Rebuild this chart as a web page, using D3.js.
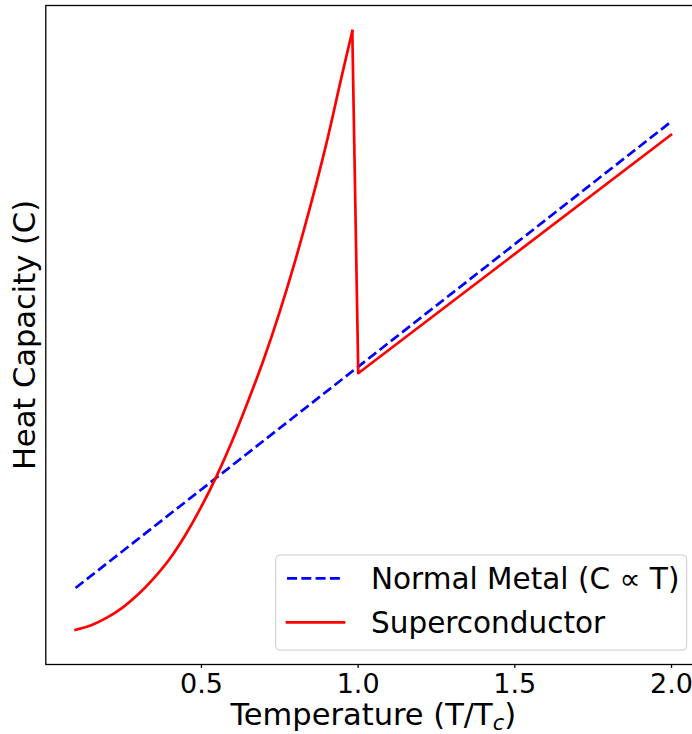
<!DOCTYPE html>
<html>
<head>
<meta charset="utf-8">
<script src="https://cdn.jsdelivr.net/npm/d3@7"></script>
<style>
  body { margin: 0; background: #fff; }
  text { font-family: "DejaVu Sans", sans-serif; fill: #000; }
</style>
</head>
<body>
<script>
// values (C in arbitrary units, normal metal C = T)
var normalT = [0.1, 2.0];
var normalC = [0.1, 2.0];

// superconductor below Tc
var superT = [0.1, 0.15, 0.2, 0.25, 0.3, 0.35, 0.4, 0.45, 0.5, 0.55,
              0.6, 0.65, 0.7, 0.75, 0.8, 0.85, 0.9, 0.95, 0.983];
var superC = [-0.071, -0.052, -0.021, 0.020, 0.074, 0.140, 0.218, 0.315, 0.428, 0.556,
              0.70, 0.86, 1.03, 1.22, 1.43, 1.66, 1.91, 2.19, 2.37];

// superconductor jump + above Tc
var aboveT = [0.983, 1.002, 2.0];
var aboveC = [2.37, 0.975, 1.947];

var xTicks = [0.5, 1.0, 1.5, 2.0];
var xDomain = [0.005, 2.095];
var yDomain = [-0.212, 2.474];

makeChart();

function makeChart() {
  var w = 692, h = 734;
  // plot area
  var pl = 45.8, pr = 700.8, pt = 5.5, pb = 664.5;

  var svg = d3.select('body').append('svg')
    .attr('width', w)
    .attr('height', h);

  var xScale = d3.scaleLinear().domain(xDomain).range([pl, pr]);
  var yScale = d3.scaleLinear().domain(yDomain).range([pb, pt]);

  var zip = (a, b) => a.map((d, i) => [d, b[i]]);

  var line = d3.line()
    .x(d => xScale(d[0]))
    .y(d => yScale(d[1]));

  // normal metal (dashed blue)
  svg.append('path')
    .attr('d', line(zip(normalT, normalC)))
    .attr('fill', 'none')
    .attr('stroke', '#0000ff')
    .attr('stroke-width', 2.7)
    .attr('stroke-dasharray', '10,4.3');

  // superconductor (red)
  svg.append('path')
    .attr('d', line.curve(d3.curveMonotoneX)(zip(superT, superC)))
    .attr('fill', 'none')
    .attr('stroke', '#ff0000')
    .attr('stroke-width', 2.7)
    .attr('stroke-linejoin', 'round')
    .attr('stroke-linecap', 'square');

  svg.append('path')
    .attr('d', line.curve(d3.curveLinear)(zip(aboveT, aboveC)))
    .attr('fill', 'none')
    .attr('stroke', '#ff0000')
    .attr('stroke-width', 2.7)
    .attr('stroke-linejoin', 'round')
    .attr('stroke-linecap', 'square');

  // axes frame
  svg.append('rect')
    .attr('x', pl).attr('y', pt)
    .attr('width', pr - pl).attr('height', pb - pt)
    .attr('fill', 'none')
    .attr('stroke', '#000')
    .attr('stroke-width', 1.3);

  // x axis
  var xAxis = d3.axisBottom(xScale)
    .tickValues(xTicks)
    .tickFormat(d3.format('.1f'))
    .tickSize(3.5)
    .tickPadding(6);

  var gx = svg.append('g')
    .attr('transform', `translate(0,${pb})`)
    .call(xAxis);
  gx.select('.domain').remove();
  gx.selectAll('line').attr('stroke', '#000').attr('stroke-width', 1.3);
  gx.selectAll('text')
    .attr('font-size', 27)
    .attr('font-family', '"DejaVu Sans", sans-serif')
    .attr('fill', '#000');

  // labels
  var xl = svg.append('text')
    .attr('x', (pl + pr) / 2)
    .attr('y', 725)
    .attr('text-anchor', 'middle')
    .attr('font-size', 30.5);
  xl.append('tspan').text('Temperature (T/T');
  xl.append('tspan').text('c').attr('font-style', 'italic').attr('font-size', 21).attr('dy', 5);
  xl.append('tspan').text(')').attr('dy', -5);

  svg.append('text')
    .attr('transform', `translate(35,${(pt + pb) / 2}) rotate(-90)`)
    .attr('text-anchor', 'middle')
    .attr('font-size', 30.5)
    .text('Heat Capacity (C)');

  // legend
  var lg = svg.append('g');
  lg.append('rect')
    .attr('x', 275.7).attr('y', 555)
    .attr('width', 411).attr('height', 95)
    .attr('rx', 4)
    .attr('fill', 'rgba(255,255,255,0.8)')
    .attr('stroke', '#cccccc')
    .attr('stroke-width', 1);

  var legendItems = [
    { label: 'Normal Metal (C \u221D T)', color: '#0000ff', dash: '10,4.3' },
    { label: 'Superconductor', color: '#ff0000', dash: null }
  ];

  legendItems.forEach(function(d, i) {
    var y = 578.3 + i * 44;
    lg.append('line')
      .attr('x1', 287).attr('x2', 344)
      .attr('y1', y).attr('y2', y)
      .attr('stroke', d.color)
      .attr('stroke-width', 2.7)
      .attr('stroke-dasharray', d.dash)
      .attr('stroke-linecap', d.dash ? 'butt' : 'square');
    lg.append('text')
      .attr('x', 371)
      .attr('y', y + 11)
      .attr('font-size', 29.5)
      .text(d.label);
  });
}
</script>
</body>
</html>
